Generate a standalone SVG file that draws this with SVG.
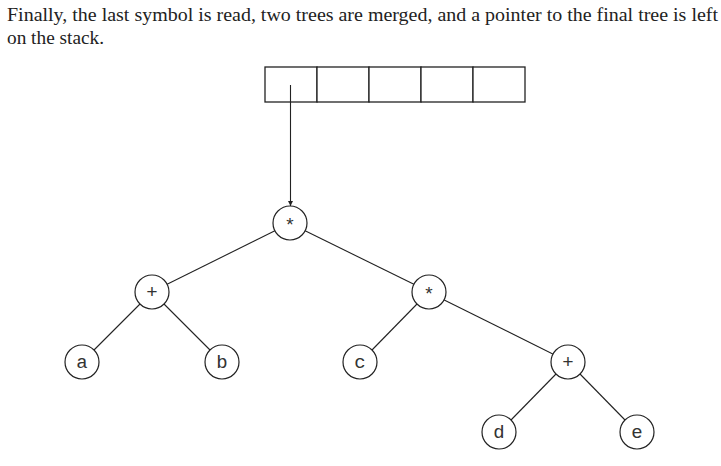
<svg xmlns="http://www.w3.org/2000/svg" width="721" height="466" viewBox="0 0 721 466">
<style>
.n circle{fill:#fff;stroke:#222;stroke-width:1.2}
.e line{stroke:#222;stroke-width:1.1}
.s rect{fill:#fff;stroke:#222;stroke-width:1.3}
</style>
<defs>
<marker id="ah" viewBox="0 0 10 10" refX="10" refY="5" markerWidth="7" markerHeight="5" orient="auto" markerUnits="userSpaceOnUse">
<path d="M0,0 L10,5 L0,10 z" fill="#222"/>
</marker>
</defs>
<rect width="721" height="466" fill="#fff"/>
<g font-family="Liberation Serif, serif" font-size="19.5" fill="#222">
<text x="7" y="21" textLength="711" lengthAdjust="spacingAndGlyphs">Finally, the last symbol is read, two trees are merged, and a pointer to the final tree is left</text>
<text x="7" y="44" textLength="97" lengthAdjust="spacingAndGlyphs">on the stack.</text>
</g>
<g id="stack" class="s">
<rect x="265" y="67" width="52" height="35"/>
<rect x="317" y="67" width="52" height="35"/>
<rect x="369" y="67" width="52" height="35"/>
<rect x="421" y="67" width="52" height="35"/>
<rect x="473" y="67" width="52" height="35"/>
</g>
<g id="connectors" class="e">
<line x1="290.5" y1="85" x2="290.5" y2="206" marker-end="url(#ah)"/>
<line x1="274.9" y1="230.8" x2="167.1" y2="284.2"/>
<line x1="305.1" y1="230.8" x2="413.9" y2="284.2"/>
<line x1="140" y1="304" x2="94" y2="350"/>
<line x1="164" y1="304" x2="210" y2="350"/>
<line x1="417" y1="304" x2="372" y2="350"/>
<line x1="444.2" y1="299.9" x2="552.8" y2="353.9"/>
<line x1="556" y1="374" x2="511" y2="420"/>
<line x1="580" y1="374" x2="625" y2="420"/>
</g>
<g font-family="Liberation Mono, monospace" font-size="19" fill="#333" text-anchor="middle">
<g id="n-root" class="n"><circle cx="290" cy="223" r="17"/><text x="290" y="231">*</text></g>
<g id="n-plus1" class="n"><circle cx="152" cy="292" r="17"/><text x="152" y="298">+</text></g>
<g id="n-star2" class="n"><circle cx="429" cy="292" r="17"/><text x="429" y="300">*</text></g>
<g id="n-a" class="n"><circle cx="82" cy="362" r="17"/><text x="82" y="368">a</text></g>
<g id="n-b" class="n"><circle cx="222" cy="362" r="17"/><text x="222" y="368">b</text></g>
<g id="n-c" class="n"><circle cx="360" cy="362" r="17"/><text x="360" y="368">c</text></g>
<g id="n-plus2" class="n"><circle cx="568" cy="362" r="17"/><text x="568" y="368">+</text></g>
<g id="n-d" class="n"><circle cx="499" cy="432" r="17"/><text x="499" y="438">d</text></g>
<g id="n-e" class="n"><circle cx="637" cy="432" r="17"/><text x="637" y="438">e</text></g>
</g>
</svg>
